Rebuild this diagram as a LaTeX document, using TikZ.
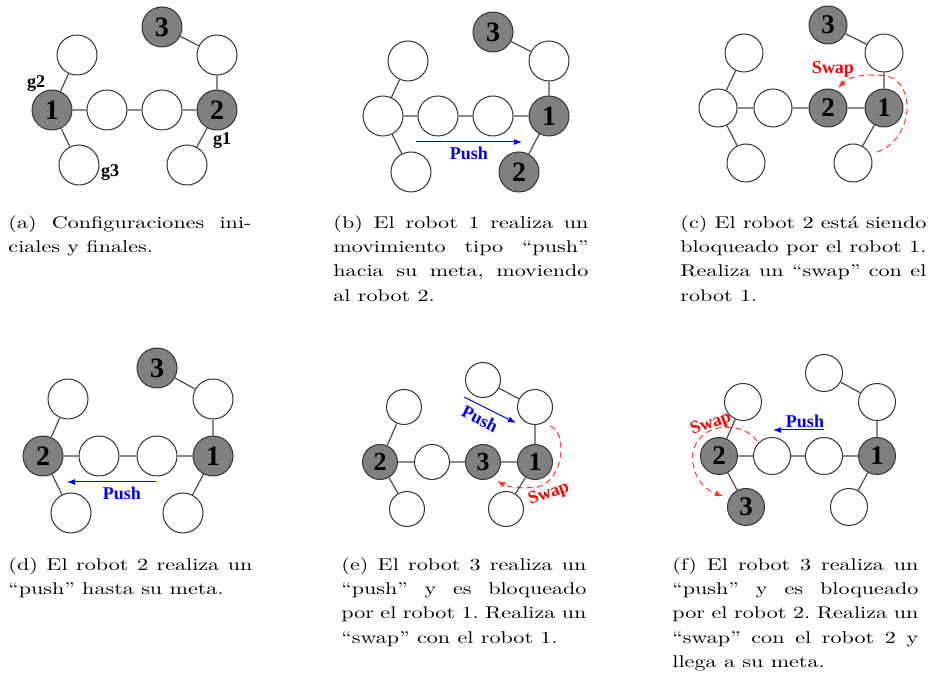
\documentclass[tikz,border=0pt]{standalone}
\usepackage{fontspec}
\newfontfamily\labfont{Liberation Serif}
\usetikzlibrary{calc,arrows.meta}
\hyphenpenalty=10000
\tolerance=3000
\frenchspacing

\tikzset{
  vtx/.style={circle, draw=black!80, line width=0.5pt, fill=white, minimum size=20pt, inner sep=0pt},
  robot/.style={vtx, fill=black!50, font=\labfont\bfseries\fontsize{14}{14}\selectfont},
  edge/.style={draw=black!70, line width=0.6pt},
  goal/.style={font=\labfont\bfseries\fontsize{9}{9}\selectfont, inner sep=0pt},
  pushlab/.style={text=blue, font=\labfont\bfseries\fontsize{9}{9}\selectfont, inner sep=0pt},
  swaplab/.style={text=red, font=\labfont\bfseries\fontsize{9}{9}\selectfont, inner sep=0pt},
  pusharr/.style={draw=blue, line width=0.5pt, -{Latex[length=4pt,width=3pt]}},
  swaparr/.style={draw=red!80, line width=0.5pt, dash pattern=on 3pt off 2pt, -{Latex[length=4pt,width=3pt]}},
  capt/.style={anchor=north west, inner sep=0pt, xscale=1.105, yscale=0.85, transform shape, align=justify,
               font=\fontsize{10}{14.35}\selectfont}
}

\begin{document}
\begin{tikzpicture}[x=0.5pt, y=-0.5pt]
\useasboundingbox (0,0) rectangle (928,678);

% (a) initial and final configurations
\node[robot] (a-tt) at (162,27) {3};
\node[vtx]   (a-tr) at (217,55) {};
\node[vtx]   (a-tl) at (77,55) {};
\node[robot] (a-l)  at (52,110) {1};
\node[vtx]   (a-m1) at (107,110) {};
\node[vtx]   (a-m2) at (162,110) {};
\node[robot] (a-r)  at (217,110) {2};
\node[vtx]   (a-bl) at (79,165) {};
\node[vtx]   (a-br) at (187,165) {};
\node[goal]  (a-g2) at (36,84) {g2};
\node[goal]  (a-g1) at (222,141) {g1};
\node[goal]  (a-g3) at (110,173) {g3};

% (b) robot 1 pushes
\node[robot] (b-tt) at (493,32) {3};
\node[vtx]   (b-tr) at (549,61) {};
\node[vtx]   (b-tl) at (408,61) {};
\node[vtx]   (b-l)  at (383,116) {};
\node[vtx]   (b-m1) at (438,116) {};
\node[vtx]   (b-m2) at (493,116) {};
\node[robot] (b-r)  at (549,116) {1};
\node[vtx]   (b-bl) at (411,172) {};
\node[robot] (b-br) at (519,172) {2};
\coordinate (b-ps) at (416,142);
\coordinate (b-pe) at (522,142);
\draw[pusharr] (b-ps) -- (b-pe);
\node[pushlab] (b-push) at (469,153) {Push};

% (c) swap of 2 and 1
\begin{scope}[vtx/.append style={minimum size=19pt}, robot/.append style={font=\labfont\bfseries\fontsize{13.5}{13.5}\selectfont}]
\node[robot] (c-tt) at (828,25) {3};
\node[vtx]   (c-tr) at (884,53) {};
\node[vtx]   (c-tl) at (744,53) {};
\node[vtx]   (c-l)  at (718,108) {};
\node[vtx]   (c-m1) at (773,108) {};
\node[robot] (c-m2) at (828,108) {2};
\node[robot] (c-r)  at (884,108) {1};
\node[vtx]   (c-bl) at (746,163) {};
\node[vtx]   (c-br) at (853,163) {};
\end{scope}
\coordinate (c-ss) at (877,152);
\coordinate (c-se) at (838,88);
\draw[swaparr] (c-ss) .. controls (912,140) and (918,85) .. (887,76)
  .. controls (860,73) and (848,78) .. (c-se);
\node[swaplab] (c-swap) at (833,69) {Swap};

% (d) robot 2 pushes
\node[robot] (d-tt) at (157,368) {3};
\node[vtx]   (d-tr) at (213,399) {};
\node[vtx]   (d-tl) at (68,399) {};
\node[robot] (d-l)  at (43,456) {2};
\node[vtx]   (d-m1) at (99,456) {};
\node[vtx]   (d-m2) at (157,456) {};
\node[robot] (d-r)  at (213,456) {1};
\node[vtx]   (d-bl) at (71,513) {};
\node[vtx]   (d-br) at (183,513) {};
\coordinate (d-ps) at (156,482);
\coordinate (d-pe) at (67,482);
\draw[pusharr] (d-ps) -- (d-pe);
\node[pushlab] (d-push) at (122,493) {Push};

% (e) robot 3 pushes, then swaps with 1
\begin{scope}[vtx/.append style={minimum size=17.5pt}, robot/.append style={font=\labfont\bfseries\fontsize{13}{13}\selectfont}]
\node[vtx]   (e-tt) at (483,380) {};
\node[vtx]   (e-tr) at (535,407) {};
\node[vtx]   (e-tl) at (404,407) {};
\node[robot] (e-l)  at (380,462) {2};
\node[vtx]   (e-m1) at (432,462) {};
\node[robot] (e-m2) at (483,462) {3};
\node[robot] (e-r)  at (535,462) {1};
\node[vtx]   (e-bl) at (407,509) {};
\node[vtx]   (e-br) at (506,509) {};
\end{scope}
\coordinate (e-ps) at (464,397);
\coordinate (e-pe) at (516,423);
\draw[pusharr] (e-ps) -- (e-pe);
\node[pushlab, rotate=-27] (e-push) at (480,419) {Push};
\coordinate (e-ss) at (550,426);
\coordinate (e-se) at (497,481);
\draw[swaparr] (e-ss) .. controls (568,432) and (564,480) .. (538,487)
  .. controls (522,489) and (508,487) .. (e-se);
\node[swaplab, rotate=20] (e-swap) at (549,494) {Swap};

% (f) robot 3 pushes, then swaps with 2
\begin{scope}[vtx/.append style={minimum size=18.5pt}, robot/.append style={font=\labfont\bfseries\fontsize{13.5}{13.5}\selectfont}]
\node[vtx]   (f-tt) at (824,373) {};
\node[vtx]   (f-tr) at (877,402) {};
\node[vtx]   (f-tl) at (743,402) {};
\node[robot] (f-l)  at (719,456) {2};
\node[vtx]   (f-m1) at (772,456) {};
\node[vtx]   (f-m2) at (824,456) {};
\node[robot] (f-r)  at (877,456) {1};
\node[robot] (f-bl) at (746,507) {3};
\node[vtx]   (f-br) at (849,507) {};
\end{scope}
\coordinate (f-ps) at (824,430);
\coordinate (f-pe) at (773,430);
\draw[pusharr] (f-ps) -- (f-pe);
\node[pushlab] (f-push) at (805,421) {Push};
\coordinate (f-ss) at (757,441);
\coordinate (f-se) at (723,496);
\draw[swaparr] (f-ss) .. controls (745,422) and (700,420) .. (693,452)
  .. controls (690,475) and (705,490) .. (f-se);
\node[swaplab, rotate=20] (f-swap) at (711,424) {Swap};

% same tree in every panel
\foreach \p in {a,b,c,d,e,f}{
  \draw[edge] (\p-tt) -- (\p-tr) -- (\p-r) -- (\p-m2) -- (\p-m1) -- (\p-l) -- (\p-tl);
  \draw[edge] (\p-r) -- (\p-br);
  \draw[edge] (\p-l) -- (\p-bl);
}

% captions
\node[capt, text width=110pt] (cap-a) at (8,215)
  {(a) Configuraciones ini-\linebreak ciales y finales.};
\node[capt, text width=115.4pt] (cap-b) at (333,215)
  {(b) El robot 1 realiza un\linebreak movimiento tipo “push”\linebreak hacia su meta, moviendo\linebreak al robot 2.};
\node[capt, text width=111.3pt] (cap-c) at (680,215)
  {(c) El robot 2 está siendo\linebreak bloqueado por el robot 1.\linebreak Realiza un “swap” con el\linebreak robot 1.};
\node[capt, text width=110.4pt] (cap-d) at (8,557)
  {(d) El robot 2 realiza un\linebreak “push” hasta su meta.};
\node[capt, text width=110.9pt] (cap-e) at (341,557)
  {(e) El robot 3 realiza un\linebreak “push” y es bloqueado\linebreak por el robot 1. Realiza un\linebreak “swap” con el robot 1.};
\node[capt, text width=111.3pt] (cap-f) at (672,557)
  {(f) El robot 3 realiza un\linebreak “push” y es bloqueado\linebreak por el robot 2. Realiza un\linebreak “swap” con el robot 2 y\linebreak llega a su meta.};

\end{tikzpicture}
\end{document}
